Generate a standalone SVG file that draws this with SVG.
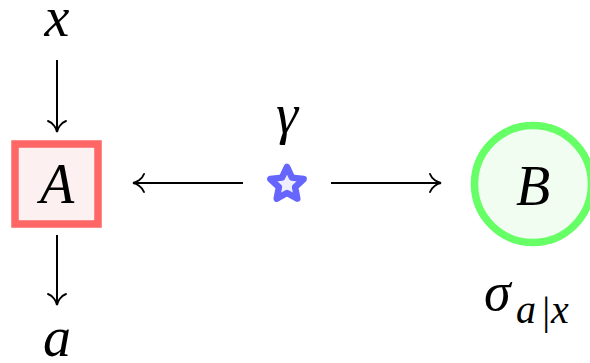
<svg xmlns="http://www.w3.org/2000/svg" width="590" height="363" viewBox="0 0 590 363">
  <defs>
    <marker id="to" viewBox="-12 -10 14 20" markerWidth="14" markerHeight="20" refX="0" refY="0" orient="auto" markerUnits="userSpaceOnUse">
      <path d="M-11,-9 C-9,-3.5 -3.5,-0.6 0,0 C-3.5,0.6 -9,3.5 -11,9" fill="none" stroke="#000" stroke-width="1.9" stroke-linecap="round"/>
    </marker>
    <style>
      .m { font-family: "Liberation Serif", "DejaVu Serif", serif; font-style: italic; fill: #000; }
      .big { font-size: 56px; }
      .sub { font-size: 40px; }
      .edge { stroke: #000; stroke-width: 2; fill: none; marker-end: url(#to); }
    </style>
  </defs>

  <!-- connectors -->
  <g id="connectors">
    <line class="edge" x1="57" y1="60" x2="57" y2="132"/>
    <line class="edge" x1="57" y1="235" x2="57" y2="305"/>
    <line class="edge" x1="243" y1="183" x2="133" y2="183"/>
    <line class="edge" x1="331" y1="183" x2="441" y2="183"/>
  </g>

  <!-- input label -->
  <g id="input-x">
    <text class="m big" x="57" y="36" text-anchor="middle">x</text>
  </g>

  <!-- party A -->
  <g id="node-A">
    <rect x="15" y="144" width="83" height="80" fill="#fdf0f0" stroke="#ff6666" stroke-width="7.5"/>
    <text class="m big" x="57" y="203" text-anchor="middle">A</text>
  </g>

  <!-- output label -->
  <g id="output-a">
    <text class="m big" x="57" y="356" text-anchor="middle">a</text>
  </g>

  <!-- shared source -->
  <g id="source">
    <text class="m big" x="287" y="133" text-anchor="middle">γ</text>
    <polygon points="287,167 292,177.62 303.64,179.09 295.08,187.13 297.29,198.66 287,193 276.71,198.66 278.92,187.13 270.36,179.09 282,177.62"
             fill="#eeeeff" stroke="#6666ff" stroke-width="6.5" stroke-linejoin="round"/>
  </g>

  <!-- party B -->
  <g id="node-B">
    <circle cx="533" cy="184" r="58.5" fill="#f2fdf2" stroke="#66ff66" stroke-width="7.5"/>
    <text class="m big" x="533" y="205" text-anchor="middle">B</text>
  </g>

  <!-- behaviour label -->
  <g id="label-sigma">
    <text class="m" y="310"><tspan x="484" font-size="54">σ</tspan><tspan class="sub" x="516" y="323">a</tspan><tspan class="sub" x="540" y="324">|</tspan><tspan class="sub" x="551" y="323">x</tspan></text>
  </g>
</svg>
